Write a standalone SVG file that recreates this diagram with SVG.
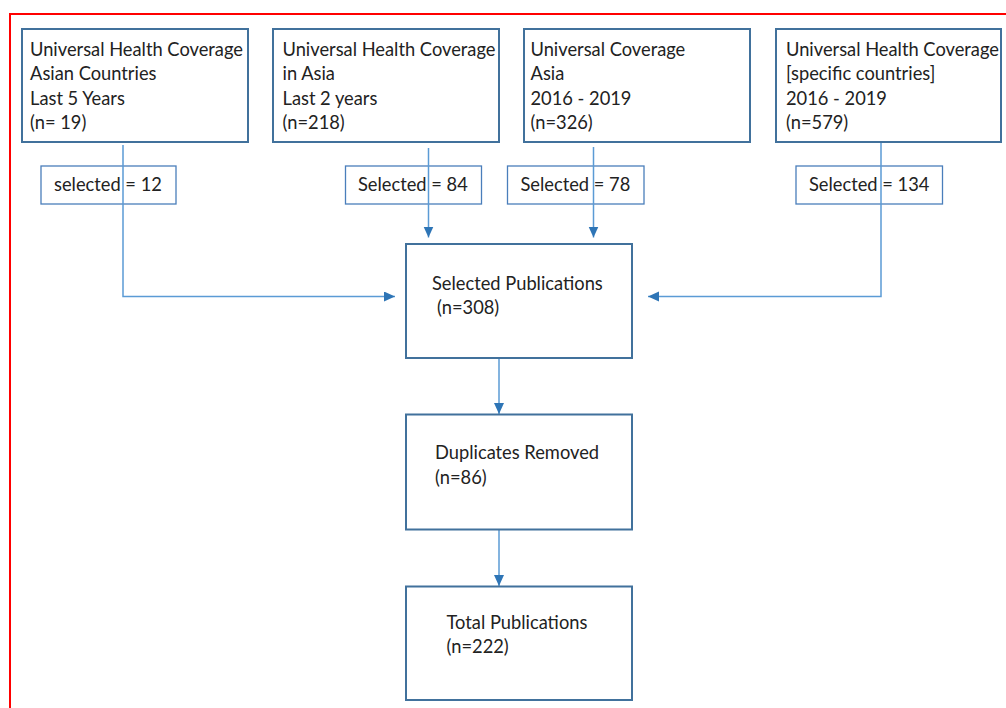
<svg xmlns="http://www.w3.org/2000/svg" width="1006" height="708" viewBox="0 0 1006 708">
<style>
.bg{fill:#ffffff}
.frame{fill:none;stroke:#ff0000;stroke-width:2}
.box{fill:#ffffff;stroke:#41719c;stroke-width:2}
.sel{fill:#ffffff;stroke:#4a7ebb;stroke-width:1.3}
.conn{fill:none;stroke:#5b9bd5;stroke-width:1.5}
text{font-family:Lato,"Open Sans","Liberation Sans",sans-serif;font-size:18.3px;fill:#222222}
</style>
<defs>
<marker id="ah" markerUnits="userSpaceOnUse" markerWidth="12" markerHeight="12" refX="11" refY="5" orient="auto">
<path d="M0,0 L11,5 L0,10 Z" fill="#2e75b6"/>
</marker>
</defs>
<rect class="bg" x="0" y="0" width="1006" height="708"/>
<path class="frame" d="M10,720 L10,14 L1010,14"/>

<g id="n1">
<rect class="box" x="22" y="29" width="226" height="113"/>
<text x="30" y="56">Universal Health Coverage</text>
<text x="30" y="80">Asian Countries</text>
<text x="30" y="104.5">Last 5 Years</text>
<text x="30" y="129">(n= 19)</text>
</g>
<g id="n2">
<rect class="box" x="273" y="29" width="226" height="113"/>
<text x="282.5" y="56">Universal Health Coverage</text>
<text x="282.5" y="80">in Asia</text>
<text x="282.5" y="104.5">Last 2 years</text>
<text x="282.5" y="129">(n=218)</text>
</g>
<g id="n3">
<rect class="box" x="524" y="29" width="226" height="113"/>
<text x="530.5" y="56">Universal Coverage</text>
<text x="530.5" y="80">Asia</text>
<text x="530.5" y="104.5">2016 - 2019</text>
<text x="530.5" y="129">(n=326)</text>
</g>
<g id="n4">
<rect class="box" x="776" y="29" width="225" height="113"/>
<text x="786" y="56">Universal Health Coverage</text>
<text x="786" y="80">[specific countries]</text>
<text x="786" y="104.5">2016 - 2019</text>
<text x="786" y="129">(n=579)</text>
</g>

<g id="s1">
<rect class="sel" x="41" y="166" width="135" height="38"/>
<text x="54" y="191">selected = 12</text>
</g>
<g id="s2">
<rect class="sel" x="345.5" y="166" width="136" height="38"/>
<text x="358" y="191">Selected = 84</text>
</g>
<g id="s3">
<rect class="sel" x="507.5" y="166" width="136.5" height="38"/>
<text x="520.5" y="191">Selected = 78</text>
</g>
<g id="s4">
<rect class="sel" x="796" y="166" width="146.5" height="38"/>
<text x="809" y="191">Selected = 134</text>
</g>

<g id="connectors">
<path class="conn" d="M123,145 L123,296.5 L395,296.5" marker-end="url(#ah)"/>
<path class="conn" d="M428.5,148 L428.5,237.5" marker-end="url(#ah)"/>
<path class="conn" d="M593.5,147 L593.5,237.5" marker-end="url(#ah)"/>
<path class="conn" d="M881,143 L881,296.5 L648,296.5" marker-end="url(#ah)"/>
<path class="conn" d="M499,358 L499,414" marker-end="url(#ah)"/>
<path class="conn" d="M499,530 L499,586" marker-end="url(#ah)"/>
</g>

<g id="p1">
<rect class="box" x="406" y="244" width="226" height="114"/>
<text x="432" y="290">Selected Publications</text>
<text x="437" y="314">(n=308)</text>
</g>
<g id="p2">
<rect class="box" x="406" y="414.5" width="226" height="115"/>
<text x="435" y="459">Duplicates Removed</text>
<text x="435" y="483.5">(n=86)</text>
</g>
<g id="p3">
<rect class="box" x="406" y="586.5" width="226" height="113.5"/>
<text x="446.5" y="628.5">Total Publications</text>
<text x="446.5" y="652.5">(n=222)</text>
</g>
</svg>
